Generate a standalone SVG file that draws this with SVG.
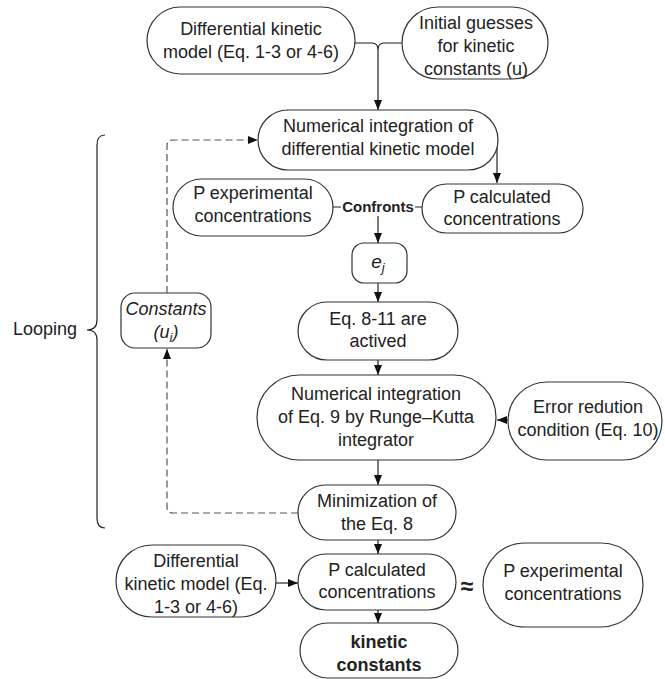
<svg xmlns="http://www.w3.org/2000/svg" width="665" height="679" viewBox="0 0 665 679">
<defs>
<style>
.n{fill:#fff;stroke:#333;stroke-width:1.2}
.t{font-family:"Liberation Sans",Arial,sans-serif;font-size:18px;fill:#222;text-anchor:middle}
.b{font-weight:bold}
.i{font-style:italic}
.c{fill:none;stroke:#222;stroke-width:1.2}
.d{fill:none;stroke:#555;stroke-width:1.2;stroke-dasharray:7 4}
</style>
<marker id="ah" markerUnits="userSpaceOnUse" markerWidth="10" markerHeight="8" refX="10" refY="4" orient="auto">
<path d="M0,0 L10,4 L0,8 z" fill="#111"/>
</marker>
</defs>
<rect width="665" height="679" fill="#fff"/>

<g id="connectors">
<path class="c" d="M355,43 H372 Q378,43 378,50 M402,43 H384 Q378,43 378,50 V110" marker-end="url(#ah)"/>
<path class="c" d="M497,140 V183" marker-end="url(#ah)"/>
<path class="c" d="M333,207 H341 M415,207 H422"/>
<path class="c" d="M378,216 V243" marker-end="url(#ah)"/>
<path class="c" d="M378,283 V302" marker-end="url(#ah)"/>
<path class="c" d="M378,360 V375" marker-end="url(#ah)"/>
<path class="c" d="M508,420 H497" marker-end="url(#ah)"/>
<path class="c" d="M378,460 V485" marker-end="url(#ah)"/>
<path class="c" d="M378,540 V554" marker-end="url(#ah)"/>
<path class="c" d="M276,583 H298" marker-end="url(#ah)"/>
<path class="c" d="M378,610 V623" marker-end="url(#ah)"/>
<path class="d" d="M298,513 H173 Q167,513 167,507 V349" marker-end="url(#ah)"/>
<path class="d" d="M167,293 V146 Q167,140 173,140 H258" marker-end="url(#ah)"/>
<path class="c" d="M105,135 Q97,135 97,145 V320 Q97,330 87,330 Q97,330 97,340 V518 Q97,528 105,528"/>
</g>

<g id="looping"><text class="t" x="45" y="335">Looping</text></g>

<g id="n1"><rect class="n" x="147" y="7" width="208" height="67" rx="33.5"/>
<text class="t" x="251" y="35">Differential kinetic</text><text class="t" x="251" y="58">model (Eq. 1-3 or 4-6)</text></g>

<g id="n2"><rect class="n" x="402" y="7" width="146" height="72" rx="36"/>
<text class="t" x="476" y="29">Initial guesses</text><text class="t" x="476" y="52">for kinetic</text><text class="t" x="476" y="75">constants (u)</text></g>

<g id="n3"><rect class="n" x="258" y="110" width="240" height="60" rx="30"/>
<text class="t" x="378" y="132">Numerical integration of</text><text class="t" x="378" y="155">differential kinetic model</text></g>

<g id="n4"><rect class="n" x="173" y="179" width="160" height="57" rx="28.5"/>
<text class="t" x="253" y="199">P experimental</text><text class="t" x="253" y="222">concentrations</text></g>

<g id="confronts"><text class="t b" x="378" y="212" style="font-size:15px">Confronts</text></g>

<g id="n5"><rect class="n" x="422" y="184" width="161" height="49" rx="24.5"/>
<text class="t" x="502" y="203">P calculated</text><text class="t" x="502" y="225">concentrations</text></g>

<g id="n6"><rect class="n" x="352" y="243" width="55" height="40" rx="12"/>
<text class="t i" x="378" y="268" style="font-size:19px">e<tspan font-size="13" dy="4">j</tspan></text></g>

<g id="n7"><rect class="n" x="298" y="302" width="160" height="58" rx="29"/>
<text class="t" x="378" y="325">Eq. 8-11 are</text><text class="t" x="378" y="347">actived</text></g>

<g id="n8"><rect class="n" x="121" y="293" width="90" height="55" rx="14"/>
<text class="t i" x="166" y="315">Constants</text><text class="t i" x="166" y="338">(u<tspan font-size="13" dy="4">i</tspan><tspan dy="-4">)</tspan></text></g>

<g id="n9"><rect class="n" x="257" y="375" width="239" height="85" rx="42.5"/>
<text class="t" x="376" y="400">Numerical integration</text><text class="t" x="376" y="423">of Eq. 9 by Runge–Kutta</text><text class="t" x="376" y="446">integrator</text></g>

<g id="n10"><rect class="n" x="508" y="382" width="154" height="78" rx="39"/>
<text class="t" x="588" y="413">Error redution</text><text class="t" x="588" y="436">condition (Eq. 10)</text></g>

<g id="n11"><rect class="n" x="298" y="485" width="158" height="55" rx="27.5"/>
<text class="t" x="377" y="507">Minimization of</text><text class="t" x="377" y="530">the Eq. 8</text></g>

<g id="n12"><rect class="n" x="116" y="545" width="160" height="72" rx="36"/>
<text class="t" x="196" y="567">Differential</text><text class="t" x="196" y="590">kinetic model (Eq.</text><text class="t" x="196" y="613">1-3 or 4-6)</text></g>

<g id="n13"><rect class="n" x="298" y="554" width="158" height="56" rx="28"/>
<text class="t" x="377" y="576">P calculated</text><text class="t" x="377" y="598">concentrations</text></g>

<g id="approx"><text class="t b" x="467" y="594" style="font-size:23px">≈</text></g>

<g id="n14"><rect class="n" x="483" y="543" width="160" height="84" rx="42"/>
<text class="t" x="563" y="577">P experimental</text><text class="t" x="563" y="600">concentrations</text></g>

<g id="n15"><rect class="n" x="300" y="623" width="158" height="55" rx="27.5"/>
<text class="t b" x="379" y="648">kinetic</text><text class="t b" x="379" y="671">constants</text></g>
</svg>
